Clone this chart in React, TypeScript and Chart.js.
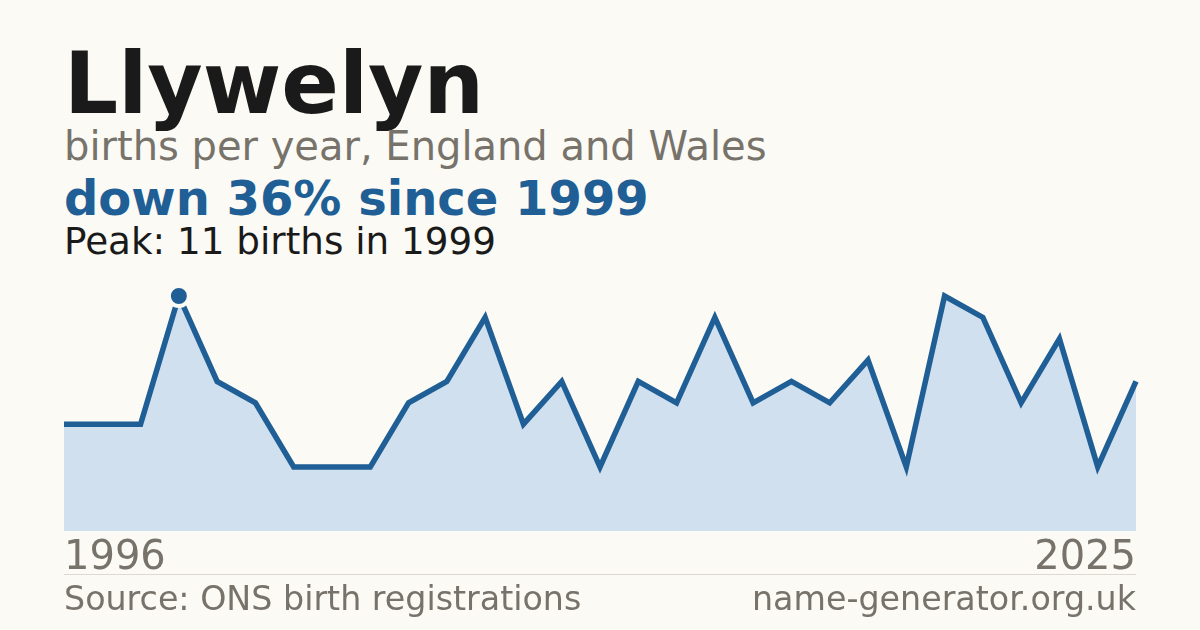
import { useEffect, useRef } from 'react'
import { Chart, registerables } from 'chart.js'

Chart.register(...registerables)

// years shown (one year is missing from the series, spacing is even)
const years = [
  '1996', '1997', '1998', '1999', '2000', '2001', '2002', '2003', '2004', '2005',
  '2006', '2007', '2008', '2009', '2010', '2011', '2012', '2014', '2015', '2016',
  '2017', '2018', '2019', '2020', '2021', '2022', '2023', '2024', '2025',
]
const births = [
  5, 5, 5, 11, 7, 6, 3, 3, 3, 6,
  7, 10, 5, 7, 3, 7, 6, 10, 6, 7,
  6, 8, 3, 11, 10, 6, 9, 3, 7,
]
const peakIndex = 3
const yMax = 11

const BG = '#fbfaf5'
const BLUE = '#1f5f96'
const FILL = '#d0e0ef'
const GREY = '#77736b'
const FONT = '"DejaVu Sans", sans-serif'

// the x tick padding is also added on both sides by chart.js
const TICK_PAD = 4
const CANVAS_H = 307

function BirthsChart() {
  const canvasRef = useRef<HTMLCanvasElement>(null)
  const chartRef = useRef<Chart | null>(null)

  useEffect(() => {
    if (!canvasRef.current) return
    if (chartRef.current) {
      chartRef.current.destroy()
      chartRef.current = null
    }

    const last = years.length - 1

    chartRef.current = new Chart(canvasRef.current, {
      type: 'line',
      data: {
        labels: years,
        datasets: [{
          data: births,
          borderColor: BLUE,
          borderWidth: 5.5,
          backgroundColor: FILL,
          fill: 'origin',
          tension: 0,
          clip: false,
          pointRadius: births.map((_, i) => (i === peakIndex ? 10 : 0)),
          pointBackgroundColor: BLUE,
          pointBorderColor: BG,
          pointBorderWidth: 4,
          pointHoverRadius: 0,
        }],
      },
      options: {
        animation: false,
        responsive: false,
        maintainAspectRatio: false,
        layout: { autoPadding: false, padding: { top: 16, left: 0, right: 0, bottom: 0 } },
        plugins: {
          legend: { display: false },
          tooltip: { enabled: false },
        },
        scales: {
          y: {
            display: false,
            min: 0,
            max: yMax,
          },
          x: {
            grid: { display: false, drawTicks: false },
            border: { display: false },
            ticks: {
              autoSkip: false,
              maxRotation: 0,
              minRotation: 0,
              align: 'inner',
              padding: TICK_PAD,
              color: GREY,
              font: { family: FONT, size: 40 },
              callback: (_v, i) => (i === 0 || i === last ? years[i] : ''),
            },
          },
        },
      },
    })

    return () => {
      if (chartRef.current) {
        chartRef.current.destroy()
        chartRef.current = null
      }
    }
  }, [])

  const w = 1072 + TICK_PAD * 2
  return (
    <canvas
      ref={canvasRef}
      width={w}
      height={CANVAS_H}
      style={{ position: 'absolute', left: 64 - TICK_PAD, top: 280, width: w, height: CANVAS_H }}
    />
  )
}

export default function App() {
  const text = (top: number, size: number, color: string, bold = false) => ({
    position: 'absolute' as const,
    left: 64,
    top,
    margin: 0,
    fontSize: size,
    lineHeight: 1,
    fontWeight: bold ? 700 : 400,
    color,
    whiteSpace: 'nowrap' as const,
  })

  return (
    <div style={{
      position: 'fixed', left: 0, top: 0, width: 1200, height: 630,
      background: BG, fontFamily: FONT, overflow: 'hidden',
    }}>
      <div style={text(41, 85, '#1a1a1a', true)}>Llywelyn</div>
      <div style={text(126, 40, GREY)}>births per year, England and Wales</div>
      <div style={text(174, 48, BLUE, true)}>down 36% since 1999</div>
      <div style={text(222.5, 37.3, '#1a1a1a')}>Peak: 11 births in 1999</div>
      <BirthsChart />
      <div style={{ position: 'absolute', left: 64, top: 574, width: 1072, height: 1, background: '#dcd9d2' }} />
      <div style={text(582, 33.3, GREY)}>Source: ONS birth registrations</div>
      <div style={{ ...text(582, 33.3, GREY), left: 'auto', right: 64 }}>name-generator.org.uk</div>
    </div>
  )
}
